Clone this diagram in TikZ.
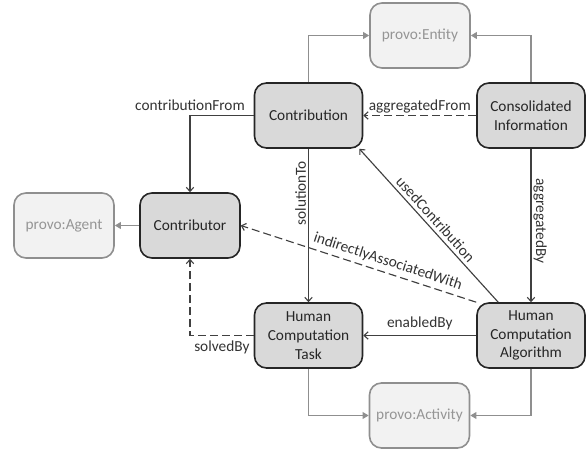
\documentclass[tikz,border=0pt]{standalone}
\usepackage{fontspec}
\setmainfont{Carlito}
\usetikzlibrary{arrows.meta}

\definecolor{boxfill}{HTML}{D9D9D9}
\definecolor{boxline}{HTML}{262626}
\definecolor{provofill}{HTML}{F2F2F2}
\definecolor{provoline}{HTML}{8F8F8F}
\definecolor{provotext}{HTML}{959595}
\definecolor{relline}{HTML}{404040}
\definecolor{reltext}{HTML}{333333}

\tikzset{
	cls/.style={draw=boxline, fill=boxfill, line width=1.2pt, rounded corners=9pt,
		minimum width=81pt, minimum height=48.75pt, align=center, text=boxline, inner sep=2pt},
	provo/.style={cls, draw=provoline, fill=provofill, text=provotext, minimum width=75pt},
	rel/.style={draw=relline, line width=.85pt, -{Straight Barb[length=3pt,width=5.5pt]}},
	relopt/.style={rel, dash pattern=on 6pt off 3pt},
	subcls/.style={draw=provoline, line width=1pt, -{Triangle[length=4.5pt,width=5pt]}},
	lbl/.style={text=reltext, inner sep=1.5pt}
}

\begin{document}
\begin{tikzpicture}[x=.75pt, y=-.75pt, font=\fontsize{11.5}{14}\selectfont]
	\useasboundingbox (0,0) rectangle (587,453);

	\node [provo] (entity) at (420,35.5) {provo:Entity};
	\node [provo] (agent) at (64,225.5) {provo:Agent};
	\node [provo] (activity) at (419.5,415.5) {provo:Activity};

	\node [cls] (contribution) at (308.5,115.5) {Contribution};
	\node [cls] (consolidated) at (531,115.5) {Consolidated\\Information};
	\node [cls, minimum width=75pt] (contributor) at (190,225.5) {Contributor};
	\node [cls] (task) at (308.5,335.5) {Human\\Computation\\Task};
	\node [cls] (algorithm) at (531,335.5) {Human\\Computation\\Algorithm};

	\draw [subcls] (contribution.north) |- (entity.west);
	\draw [subcls] (consolidated.north) |- (entity.east);
	\draw [subcls] (contributor.west) -- (agent.east);
	\draw [subcls] (task.south) |- (activity.west);
	\draw [subcls] (algorithm.south) |- (activity.east);

	\draw [rel] (contribution.west) -| node [lbl, pos=.5, above=2pt] {contributionFrom} (contributor.north);
	\draw [relopt] (consolidated.west) -- node [lbl, above] {aggregatedFrom} (contribution.east);
	\draw [rel] (contribution.south) -- node [lbl, pos=.29, rotate=90, anchor=south] {solutionTo} (task.north);
	\draw [rel] (consolidated.south) -- node [lbl, pos=.47, rotate=-90, anchor=south] {aggregatedBy} (algorithm.north);
	\draw [rel] ([xshift=16.5pt]algorithm.north west) -- node [lbl, sloped, above=1pt] {usedContribution} ([xshift=-3pt]contribution.south east);
	\draw [relopt] (algorithm.north west) -- node [lbl, pos=.39, sloped, above=1.5pt] {indirectlyAssociatedWith} (contributor.east);
	\draw [rel] (algorithm.west) -- node [lbl, above=2pt] {enabledBy} (task.east);
	\draw [relopt] (task.west) -| node [lbl, pos=.25, below=2pt] {solvedBy} (contributor.south);
\end{tikzpicture}
\end{document}
